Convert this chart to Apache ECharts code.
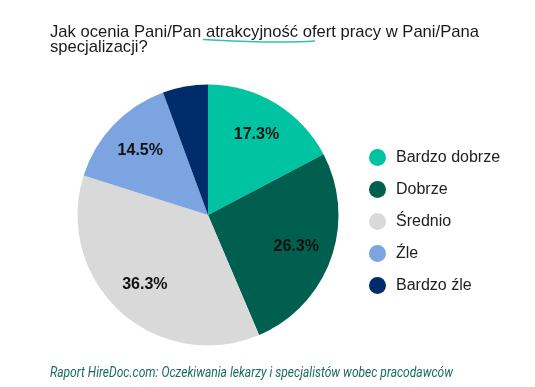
<!DOCTYPE html>
<html><head><meta charset="utf-8">
<script src="https://cdn.jsdelivr.net/npm/echarts@6/dist/echarts.min.js"></script>
<style>html,body{margin:0;padding:0;background:#fff}#c{width:535px;height:387px}</style>
</head><body><div id="c"></div>
<script>
const categories = ['Bardzo dobrze', 'Dobrze', 'Średnio', 'Źle', 'Bardzo źle'];
const values = [17.3, 26.3, 36.3, 14.5, 5.6];
const colors = ['#00C4A1', '#005F4F', '#D9D9D9', '#7BA4E0', '#002C6C'];
const shownLabels = [true, true, true, true, false];
const titleText = 'Jak ocenia Pani/Pan atrakcyjność ofert pracy w Pani/Pana\nspecjalizacji?';
const footerText = 'Raport HireDoc.com: Oczekiwania lekarzy i specjalistów wobec pracodawców';

const chart = echarts.init(document.getElementById('c'), null, {renderer: 'canvas'});
const pieData = categories.map((n, i) => ({name: n, value: values[i], itemStyle: {color: colors[i]}}));
const labelData = categories.map((n, i) => ({name: n, value: values[i], label: {show: shownLabels[i]}}));
chart.setOption({
  animation: false,
  title: {
    text: titleText, left: 50, top: 25, padding: 0,
    textStyle: {fontFamily: 'Liberation Sans', fontSize: 16.6, fontWeight: 'normal', color: '#1a1a1a', lineHeight: 15}
  },
  legend: {
    orient: 'vertical', left: 369, top: 149, padding: 0, icon: 'circle',
    itemWidth: 17, itemHeight: 17, itemGap: 15,
    data: categories,
    textStyle: {fontFamily: 'Liberation Sans', fontSize: 16, color: '#222', padding: [0, 0, 0, 5]}
  },
  graphic: [
    {type: 'bezierCurve', shape: {x1: 203, y1: 39.5, x2: 315, y2: 41, cpx1: 240, cpy1: 42, cpx2: 290, cpy2: 43},
     style: {stroke: '#2CC6A3', lineWidth: 1.5, fill: null}},
    {type: 'text', x: 50, y: 366, scaleX: 0.86,
     style: {text: footerText, fontFamily: 'Roboto', fontStyle: 'italic', fontSize: 14, fill: '#1B6A61'}}
  ],
  series: [
    {
      type: 'pie', center: [208, 215], radius: [0, 130.5], startAngle: 90, clockwise: true,
      label: {show: false}, labelLine: {show: false}, silent: true,
      itemStyle: {borderWidth: 0}, data: pieData
    },
    {
      type: 'pie', center: [208, 215], radius: [51, 130.5], startAngle: 90, clockwise: true,
      silent: true, itemStyle: {color: 'rgba(0,0,0,0)', borderWidth: 0},
      label: {position: 'inside', formatter: p => p.value.toFixed(1) + '%', fontFamily: 'Liberation Sans', fontWeight: 'bold', fontSize: 16, color: '#111'},
      labelLine: {show: false}, data: labelData
    }
  ]
});
</script></body></html>
